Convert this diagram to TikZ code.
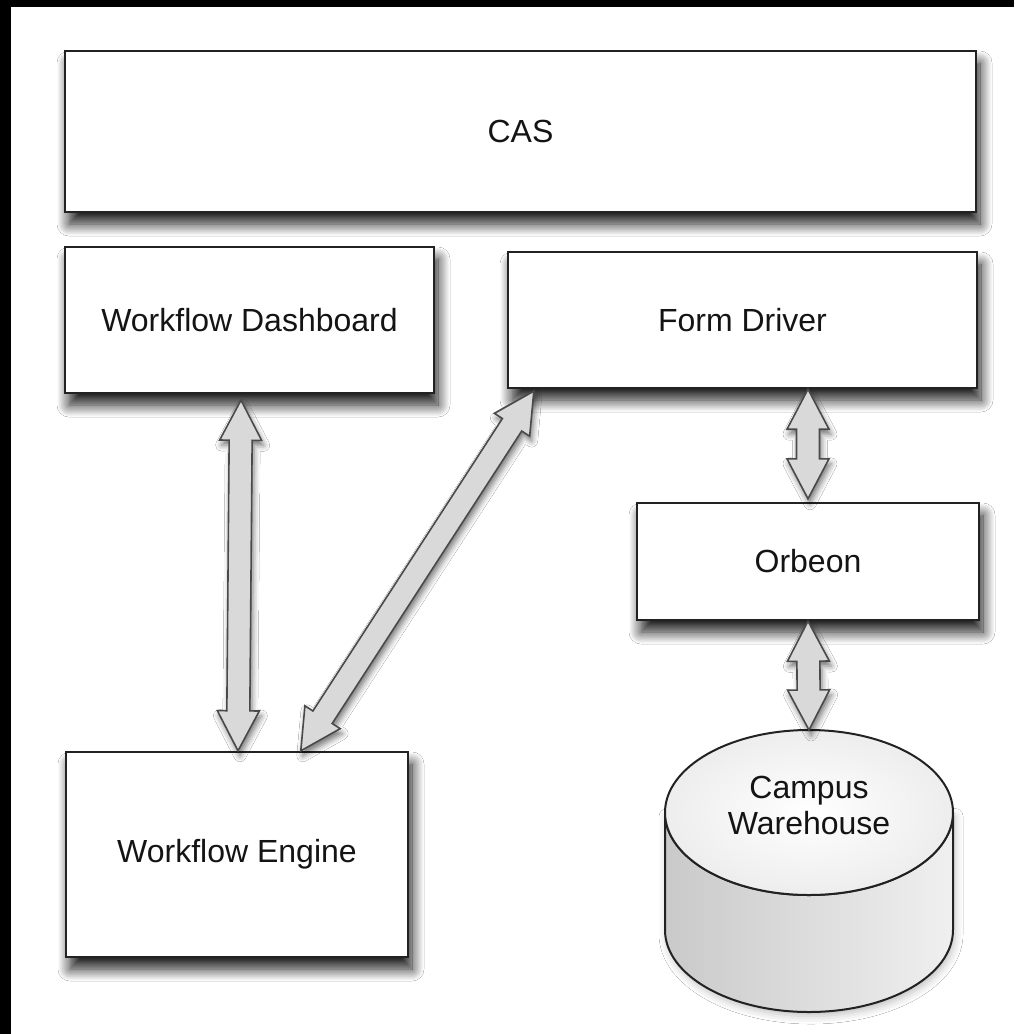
\documentclass[tikz,border=0pt]{standalone}
\usepackage{fontspec}
\setmainfont{Liberation Sans}
\usetikzlibrary{calc,shadows.blur}
\definecolor{edge}{HTML}{222222}
\definecolor{afill}{HTML}{D9D9D9}
\definecolor{aedge}{HTML}{4A4A4A}
\tikzset{
  box/.style={draw=edge, line width=1.2pt, fill=white, rectangle, inner sep=0pt,
    font=\fontsize{16}{18}\selectfont, text=black!92,
    blur shadow={shadow xshift=2pt, shadow yshift=-6pt, shadow blur radius=6pt, shadow opacity=90, shadow blur steps=14}},
  blockarrow/.style={draw=aedge, line width=0.8pt, fill=afill, line join=miter,
    blur shadow={shadow xshift=1pt, shadow yshift=-2.5pt, shadow blur radius=3pt, shadow opacity=55}},
  cyledge/.style={draw=edge, line width=1pt},
}
\newcommand\dblarrow[2]{%
  \draw[blockarrow] (#1)
    -- ($(#1)!20pt!(#2)!10.5pt!90:(#2)$)
    -- ($(#1)!20pt!(#2)!5.75pt!90:(#2)$)
    -- ($(#2)!20pt!(#1)!5.75pt!-90:(#1)$)
    -- ($(#2)!20pt!(#1)!10.5pt!-90:(#1)$)
    -- (#2)
    -- ($(#2)!20pt!(#1)!10.5pt!90:(#1)$)
    -- ($(#2)!20pt!(#1)!5.75pt!90:(#1)$)
    -- ($(#1)!20pt!(#2)!5.75pt!-90:(#2)$)
    -- ($(#1)!20pt!(#2)!10.5pt!-90:(#2)$)
    -- cycle;}
\begin{document}
\begin{tikzpicture}[x=0.5pt,y=-0.5pt]
\useasboundingbox (0,0) rectangle (1014,1034);
\fill[white] (0,0) rectangle (1014,1034);
\fill[black] (0,0) rectangle (1014,7);
\fill[black] (0,0) rectangle (11,1034);

\node[box, minimum width=455.5pt, minimum height=80.5pt] (cas) at (520.5,131.5) {CAS};
\node[box, minimum width=184.5pt, minimum height=73pt] (wd) at (249.5,320) {Workflow Dashboard};
\node[box, minimum width=234.5pt, minimum height=68pt] (fd) at (742.5,320) {Form Driver};
\node[box, minimum width=171pt, minimum height=58.5pt] (ob) at (808,561.5) {Orbeon};
\node[box, minimum width=171pt, minimum height=102.5pt] (we) at (237,854.5) {Workflow Engine};

% cylinder
\coordinate (cyltop) at (809,730);
\path[cyledge, left color=black!21, right color=black!6,
  blur shadow={shadow xshift=1pt, shadow yshift=-2pt, shadow blur radius=4pt, shadow opacity=25}]
  (665,812.5) -- (665,930) arc[start angle=180, end angle=0, x radius=144, y radius=82]
  -- (953,812.5) arc[start angle=0, end angle=180, x radius=144, y radius=82.5] -- cycle;
\path[cyledge, inner color=white, outer color=black!7] (809,812.5) ellipse [x radius=144, y radius=82.5];
\node[font=\fontsize{16}{18}\selectfont, text=black!92, align=center] (cw) at (809,805) {Campus\\Warehouse};

% connectors
\coordinate (wdS) at ([shift={(-4.25pt,-3pt)}]wd.south);
\coordinate (weN) at ([xshift=0.5pt]we.north);
\coordinate (fdSW) at ([shift={(13.5pt,-1pt)}]fd.south west);
\coordinate (weNd) at ([xshift=118pt]we.north west);
\coordinate (fdS) at ([xshift=32.75pt]fd.south);
\coordinate (obN) at ([yshift=1.5pt]ob.north);
\coordinate (obS) at ([xshift=0pt]ob.south);

\dblarrow{wdS}{weN}
\dblarrow{fdSW}{weNd}
\dblarrow{fdS}{obN}
\dblarrow{obS}{cyltop}
\end{tikzpicture}
\end{document}
